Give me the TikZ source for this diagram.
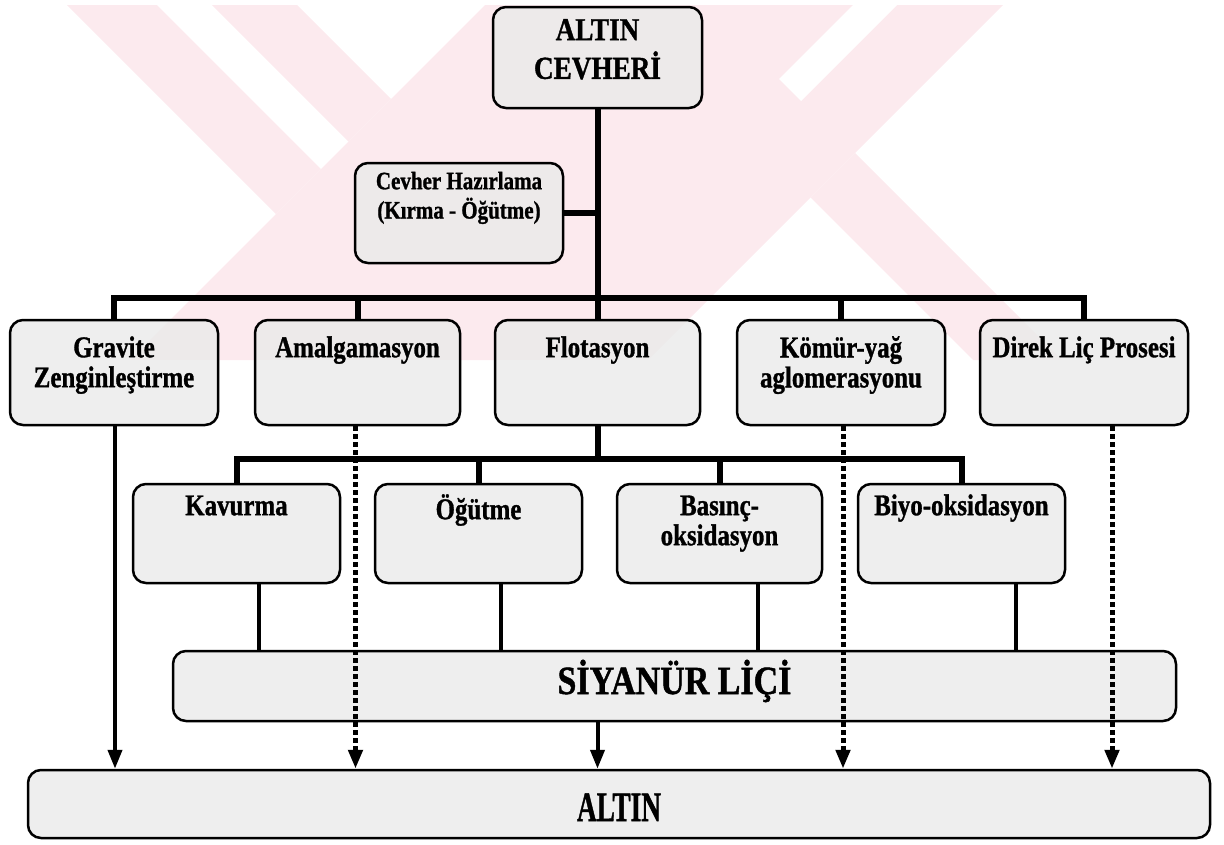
\documentclass[tikz,border=0pt]{standalone}
\usepackage{fontspec}
\usepackage{graphicx}
\setmainfont[BoldFeatures={FakeBold=1.2}]{Liberation Serif}
\usetikzlibrary{arrows.meta}
\definecolor{wmpink}{RGB}{252,234,238}
\definecolor{boxgray}{RGB}{234,234,234}
% horizontally squeezed text
\newcommand{\hsq}[2]{\scalebox{#1}[1]{#2}}

\begin{document}
\begin{tikzpicture}[x=1pt,y=-1pt,
  box/.style={draw=black, line width=2.5pt, rounded corners=13pt, fill=boxgray,
              fill opacity=0.8, inner sep=0pt},
  txt/.style={inner sep=0pt, align=center, anchor=north},
  tbig/.style={txt, font=\bfseries\fontsize{32}{34}\selectfont},
  tmid/.style={txt, font=\bfseries\fontsize{30}{30}\selectfont},
  tsmall/.style={txt, font=\bfseries\fontsize{25}{25}\selectfont},
  thuge/.style={inner sep=0pt, anchor=base, font=\bfseries\fontsize{40}{44}\selectfont},
  conn/.style={line width=6pt},
  feed/.style={line width=4pt},
  arr/.style={line width=4pt, -{Triangle[length=19pt,width=14pt]}},
  dotarr/.style={line width=5pt, dash pattern=on 5pt off 3pt,
                 -{Triangle[length=19pt,width=14pt]}},
]
\useasboundingbox (0,0) rectangle (1224,844);

% faint background emblem
\begin{scope}
  \clip (60,5) rectangle (1135,360);
  \fill[wmpink] (62,0) -- (152,0) -- (321,169) -- (276,214) -- cycle;
  \fill[wmpink] (207,0) -- (292,0) -- (391,99) -- (348.5,141.5) -- cycle;
  \fill[wmpink] (490,0) -- (1008,0) -- (648,360) -- (130,360) -- cycle;
  \fill[white] (858,0) -- (902,0) -- (801,101) -- (779,79) -- cycle;
  \fill[wmpink] (855,153) -- (810.5,197.5) -- (973,360) -- (1062,360) -- cycle;
\end{scope}

% boxes
\node[box, minimum width=209pt, minimum height=101pt] (ore) at (597.5,57.5) {};
\node[box, minimum width=208pt, minimum height=100pt] (prep) at (459,213) {};

\node[box, minimum width=208pt, minimum height=105pt] (grav)  at (114,372.5) {};
\node[box, minimum width=205pt, minimum height=105pt] (amal)  at (357.5,372.5) {};
\node[box, minimum width=205pt, minimum height=105pt] (flot)  at (597.5,372.5) {};
\node[box, minimum width=208pt, minimum height=105pt] (komur) at (841,372.5) {};
\node[box, minimum width=208pt, minimum height=105pt] (direk) at (1084,372.5) {};

\node[box, minimum width=207pt, minimum height=99pt] (kav)    at (236.5,533.5) {};
\node[box, minimum width=207pt, minimum height=99pt] (ogut)   at (478.5,533.5) {};
\node[box, minimum width=205pt, minimum height=99pt] (basinc) at (719.5,533.5) {};
\node[box, minimum width=207pt, minimum height=99pt] (biyo)   at (961.5,533.5) {};

\node[box, minimum width=1003pt, minimum height=70pt] (siyanur) at (674.5,686) {};
\node[box, minimum width=1182pt, minimum height=68pt] (altin)   at (619,804) {};

% labels
\node[tbig] (oret) at (597.5,16.2) {\strut\hsq{0.85}{ALTIN}\\\hsq{0.85}{CEVHERİ}};
\node[tsmall] (prept) at (459,171.5) {\strut\hsq{0.84}{Cevher Hazırlama}\\\hsq{0.84}{(Kırma - Öğütme)}};

\node[tmid] (gravt)  at (114,336)   {\strut\hsq{0.83}{Gravite}\\\hsq{0.83}{Zenginleştirme}};
\node[tmid] (amalt)  at (357.5,336) {\strut\hsq{0.83}{Amalgamasyon}};
\node[tmid] (flott)  at (597.5,336) {\strut\hsq{0.83}{Flotasyon}};
\node[tmid] (komurt) at (841,336)   {\strut\hsq{0.83}{Kömür-yağ}\\\hsq{0.83}{aglomerasyonu}};
\node[tmid] (direkt) at (1084,336)  {\strut\hsq{0.83}{Direk Liç Prosesi}};

\node[tmid] (kavt)    at (236.5,494) {\strut\hsq{0.83}{Kavurma}};
\node[tmid] (ogutt)   at (478.5,494) {\strut\hsq{0.83}{Öğütme}};
\node[tmid] (basinct) at (719.5,494) {\strut\hsq{0.83}{Basınç-}\\\hsq{0.83}{oksidasyon}};
\node[tmid] (biyot)   at (961.5,494) {\strut\hsq{0.83}{Biyo-oksidasyon}};

\node[thuge] (siyanurt) at (674.5,694) {\hsq{0.85}{SİYANÜR LİÇİ}};
\node[thuge, font=\bfseries\fontsize{42}{46}\selectfont] (altint) at (619,821) {\hsq{0.65}{ALTIN}};

% tree connectors
\coordinate (bar1) at (0,298);
\coordinate (bar2) at (0,459);

\draw[conn] (ore.south) -- (flot.north);
\draw[conn] (prep.east) -- (prep.east -| ore.south);

\draw[conn] (grav.north) -- (grav.north |- bar1) -- (direk.north |- bar1) -- (direk.north);
\draw[conn] (amal.north) -- (amal.north |- bar1);
\draw[conn] (komur.north) -- (komur.north |- bar1);

\draw[conn] (flot.south) -- (flot.south |- bar2);
\draw[conn] (kav.north) -- (kav.north |- bar2) -- (biyo.north |- bar2) -- (biyo.north);
\draw[conn] (ogut.north) -- (ogut.north |- bar2);
\draw[conn] (basinc.north) -- (basinc.north |- bar2);

% pretreatment outputs into cyanide leaching
\draw[feed] ([xshift=22.5pt]kav.south)    -- ([xshift=22.5pt]kav.south |- siyanur.north);
\draw[feed] ([xshift=22.5pt]ogut.south)   -- ([xshift=22.5pt]ogut.south |- siyanur.north);
\draw[feed] ([xshift=38.5pt]basinc.south) -- ([xshift=38.5pt]basinc.south |- siyanur.north);
\draw[feed] ([xshift=54.5pt]biyo.south)   -- ([xshift=54.5pt]biyo.south |- siyanur.north);

% routes to gold
\draw[arr] ([xshift=1pt]grav.south) -- ([xshift=1pt]grav.south |- altin.north);
\draw[arr] (siyanur.south -| flot.south) -- (altin.north -| flot.south);
\draw[dotarr] ([xshift=-2pt]amal.south) -- ([xshift=-2pt]amal.south |- altin.north);
\draw[dotarr] ([xshift=2pt]komur.south) -- ([xshift=2pt]komur.south |- altin.north);
\draw[dotarr] ([xshift=28pt]direk.south) -- ([xshift=28pt]direk.south |- altin.north);
\end{tikzpicture}
\end{document}
